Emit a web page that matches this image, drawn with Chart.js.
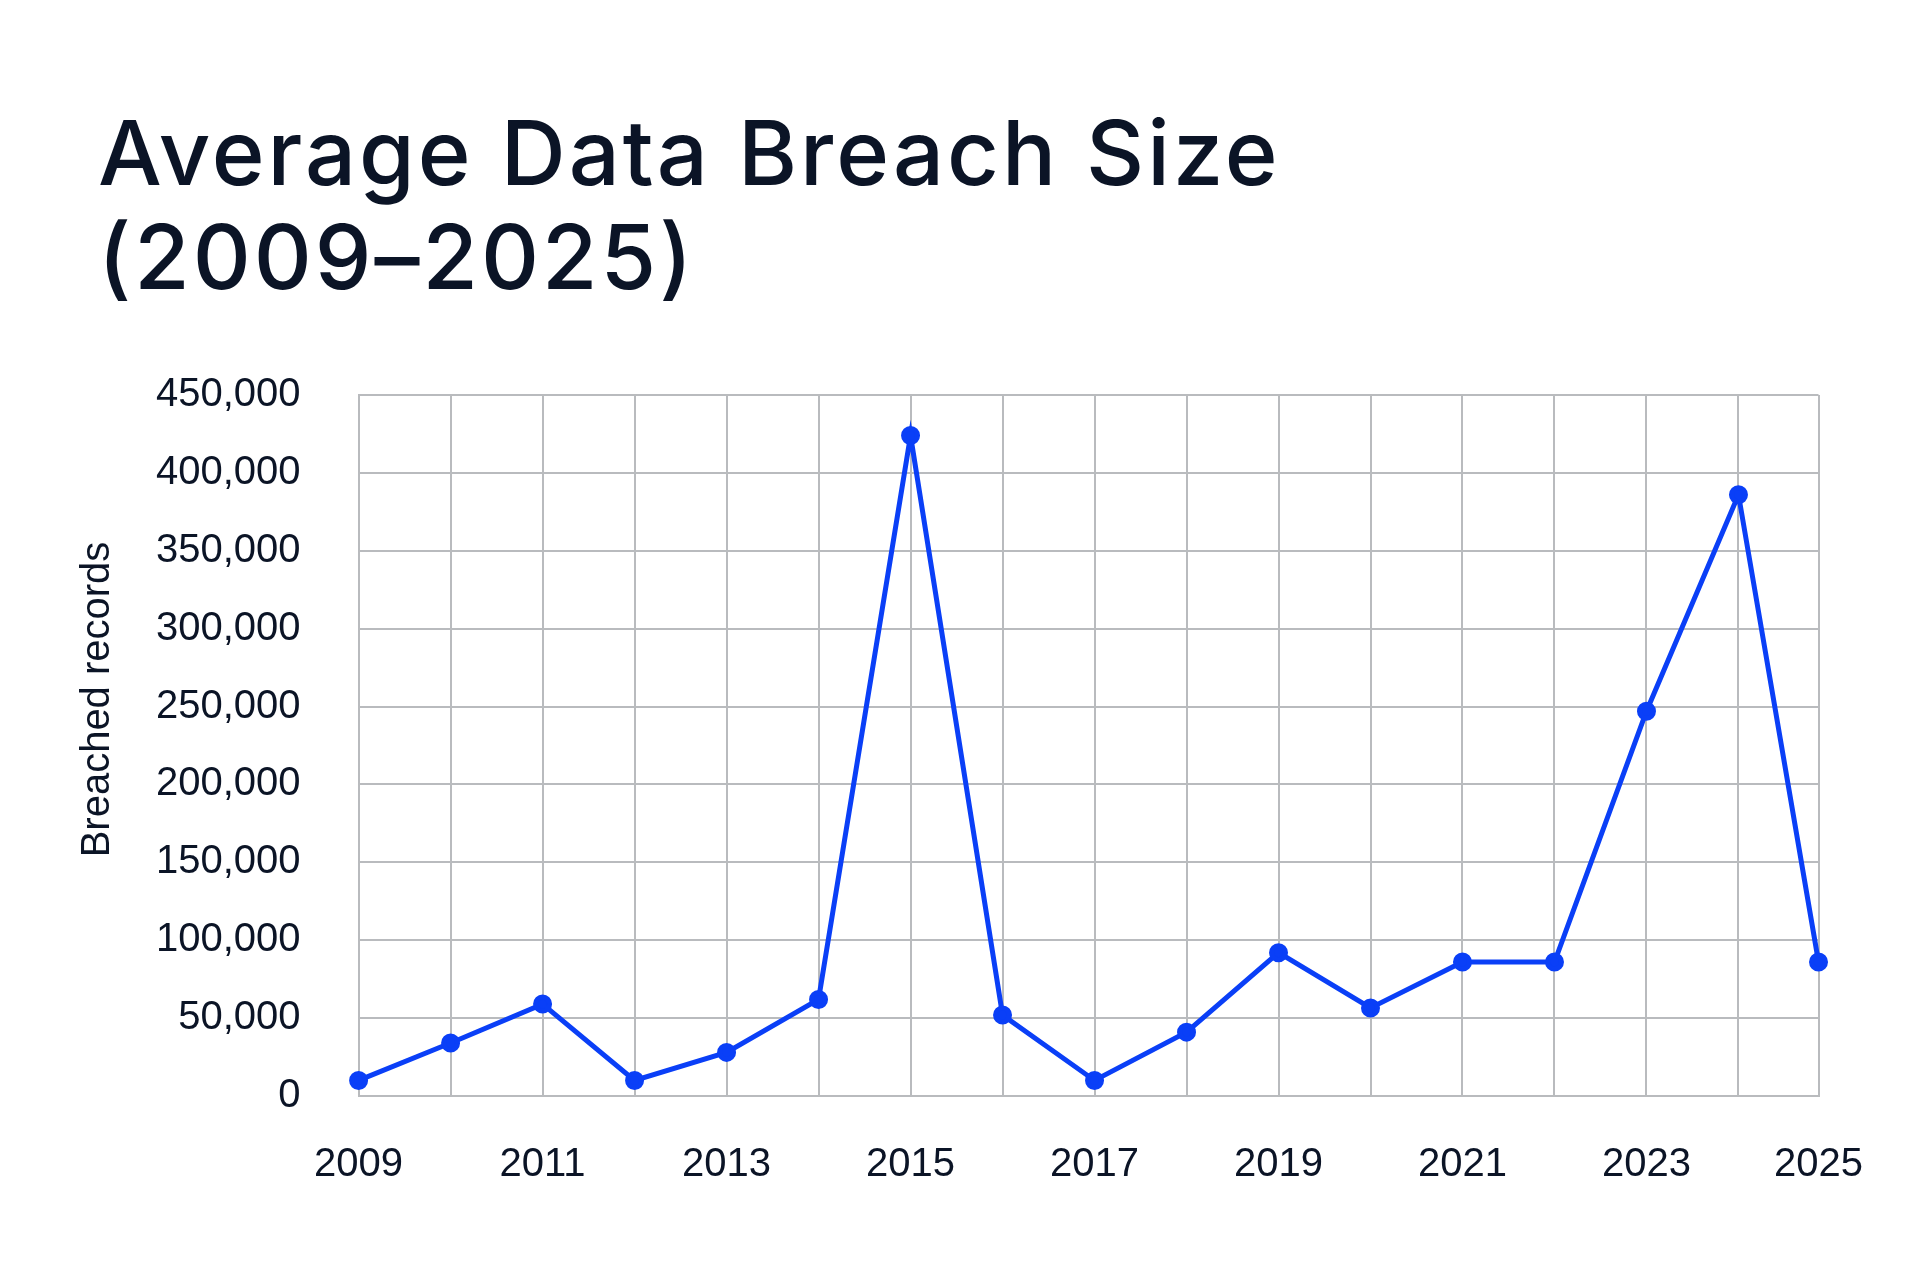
<!DOCTYPE html>
<html>
<head>
<meta charset="utf-8">
<script src="https://cdn.jsdelivr.net/npm/chart.js@4"></script>
<style>
  html, body { margin: 0; padding: 0; background: #fff; }
  body { width: 1916px; height: 1276px; position: relative; overflow: hidden; }
  h1 {
    position: absolute; left: 98px; top: 101px; margin: 0;
    font-family: Inter, sans-serif; font-weight: 500; font-size: 90px;
    line-height: 104px; color: #0b1426; letter-spacing: 3px;
  }
  .chart-wrap { position: absolute; left: 0; top: 313px; width: 1908px; height: 963px; }
</style>
</head>
<body>
<h1>Average Data Breach Size<br>(2009–2025)</h1>
<div class="chart-wrap"><canvas id="breachChart"></canvas></div>
<script>
const years = ['2009','2010','2011','2012','2013','2014','2015','2016','2017','2018','2019','2020','2021','2022','2023','2024','2025'];
// where each point sits on the time axis (the 2025 point is a partial year)
const xPositions = [2009, 2010, 2011, 2012, 2013, 2014, 2015, 2016, 2017, 2018, 2019, 2020, 2021, 2022, 2023, 2024, 2024.87];
const avgRecords = [10000, 34000, 59000, 10000, 28000, 62000, 424000, 52000, 10000, 41000, 92000, 56500, 86000, 86000, 247000, 386000, 86000];
const yTicks = [0, 50000, 100000, 150000, 200000, 250000, 300000, 350000, 400000, 450000];
const yTitle = 'Breached records';

const textColor = '#0b1426';
const tickFont = { family: '"Liberation Sans", Arial, sans-serif', size: 40 };

// y title sits a bit above the middle of the plot, so draw it by hand
const yTitlePlugin = {
    id: 'yTitle',
    afterDraw(chart) {
        const { ctx, chartArea } = chart;
        ctx.save();
        ctx.font = `${tickFont.size}px ${tickFont.family}`;
        ctx.fillStyle = textColor;
        ctx.textAlign = 'center';
        ctx.textBaseline = 'middle';
        ctx.translate(98, (chartArea.top + chartArea.bottom) / 2 - 46);
        ctx.rotate(-Math.PI / 2);
        ctx.fillText(yTitle, 0, 0);
        ctx.restore();
    }
};

function initChart() {
    if (typeof Chart === 'undefined') {
        console.warn('Chart.js not loaded');
        return;
    }
    const gridColor = '#b9bbbe';
    const points = xPositions.map((x, i) => ({ x, y: avgRecords[i] }));

    new Chart(document.getElementById('breachChart'), {
        type: 'line',
        data: {
            datasets: [{
                data: points,
                borderColor: '#0a3ff7',
                backgroundColor: '#0a3ff7',
                borderWidth: 5,
                pointRadius: 7,
                pointHoverRadius: 7,
                tension: 0,
                clip: false
            }]
        },
        options: {
            responsive: true,
            maintainAspectRatio: false,
            animation: false,
            layout: { padding: { left: 98, right: 40, top: 29, bottom: 42 } },
            plugins: { legend: { display: false }, tooltip: { enabled: false } },
            scales: {
                x: {
                    type: 'linear',
                    min: xPositions[0], max: xPositions[xPositions.length - 1],
                    afterBuildTicks: axis => { axis.ticks = xPositions.map(v => ({ value: v })); },
                    grid: { color: gridColor, lineWidth: 2, drawTicks: false },
                    border: { color: gridColor, width: 2 },
                    ticks: {
                        color: textColor, font: tickFont, padding: 45,
                        autoSkip: false, maxRotation: 0,
                        callback: (v, i) => i % 2 === 0 ? years[i] : ''
                    }
                },
                y: {
                    min: 0, max: 450000,
                    afterBuildTicks: axis => { axis.ticks = yTicks.map(v => ({ value: v })); },
                    grid: { color: gridColor, lineWidth: 2, drawTicks: false },
                    border: { color: gridColor, width: 2 },
                    ticks: {
                        color: textColor, font: tickFont, padding: 58,
                        callback: v => v.toLocaleString('en-US')
                    }
                }
            }
        },
        plugins: [yTitlePlugin]
    });
}

initChart();
</script>
</body>
</html>
